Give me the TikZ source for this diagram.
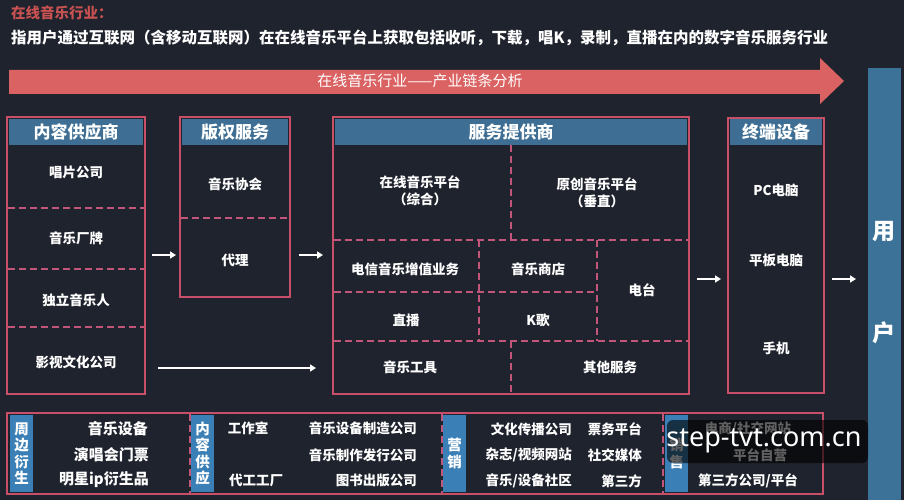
\documentclass[tikz,border=0pt]{standalone}
\usepackage{fontspec}
\setmainfont{Noto Sans CJK SC}
\newfontfamily\wmfont{Noto Sans}
\usetikzlibrary{arrows.meta}
\definecolor{bgc}{HTML}{1F232D}
\definecolor{hblue}{HTML}{3E6E93}
\definecolor{ublue}{HTML}{3C7198}
\definecolor{lblue}{HTML}{3A7FB5}
\definecolor{redb}{HTML}{C75068}
\definecolor{redd}{HTML}{C2557A}
\definecolor{arrred}{HTML}{DB6262}
\definecolor{titred}{HTML}{C85252}
\begin{document}
\begin{tikzpicture}[x=1pt,y=-1pt,
  colbox/.style={draw=redb, line width=1.6pt, inner sep=0pt},
  hdr/.style={fill=hblue, text=white, inner sep=0pt, font=\bfseries\fontsize{17}{19}\selectfont},
  dsh/.style={draw=redd, line width=1.5pt, dash pattern=on 7pt off 4pt},
  txt/.style={text=white, align=center, inner sep=0pt, font=\bfseries\fontsize{13.5}{17}\selectfont},
  btxt/.style={text=white, inner sep=0pt, font=\bfseries\fontsize{15}{17}\selectfont},
  stxt/.style={text=white, inner sep=0pt, font=\bfseries\fontsize{13.5}{16}\selectfont},
  lab/.style={fill=lblue, text=white, inner sep=0pt, align=center, minimum width=23pt, minimum height=77pt, font=\bfseries\fontsize{14.5}{16.5}\selectfont},
  arr/.style={-{Triangle[length=6pt,width=7pt]}, white, line width=1.6pt}
]
\useasboundingbox[fill=bgc] (0,0) rectangle (904,500);

% title lines
\node[anchor=west, inner sep=0pt, text=titred, font=\bfseries\fontsize{14.5}{16}\selectfont] (t1) at (11,13) {在线音乐行业：};
\node[anchor=west, inner sep=0pt, text=white, font=\bfseries\fontsize{15.5}{17}\selectfont] (t2) at (11,38) {指用户通过互联网（含移动互联网）在在线音乐平台上获取包括收听，下载，唱K，录制，直播在内的数字音乐服务行业};

% big arrow
\fill[arrred] (9,70) -- (820,70) -- (820,58) -- (844,81) -- (820,104) -- (820,94) -- (9,94) -- cycle;
\node[inner sep=0pt, text=white, font=\fontsize{15}{17}\selectfont] (chain) at (420,81) {在线音乐行业——产业链条分析};

% user bar
\node[fill=ublue, inner sep=0pt, minimum width=33pt, minimum height=432pt] (user) at (884.5,284) {};
\node[inner sep=0pt, text=white, font=\bfseries\fontsize{23}{25}\selectfont] (u1) at (884,232) {用};
\node[inner sep=0pt, text=white, font=\bfseries\fontsize{23}{25}\selectfont] (u2) at (884,333) {户};

% column 1
\node[colbox, minimum width=138pt, minimum height=277pt] (c1) at (76,255.5) {};
\node[hdr, minimum width=134pt, minimum height=26pt] (h1) at (76,132) {内容供应商};
\draw[dsh] (8,208) -- (144,208);
\draw[dsh] (8,269) -- (144,269);
\draw[dsh] (8,327) -- (144,327);
\node[txt] (c1a) at (76,172) {唱片公司};
\node[txt] (c1b) at (76,238) {音乐厂牌};
\node[txt] (c1c) at (76,300) {独立音乐人};
\node[txt] (c1d) at (76,362) {影视文化公司};

% column 2
\node[colbox, minimum width=110pt, minimum height=180pt] (c2) at (235,207) {};
\node[hdr, minimum width=106pt, minimum height=26pt] (h2) at (235,132) {版权服务};
\draw[dsh] (181,218) -- (289,218);
\node[txt] (c2a) at (235,184) {音乐协会};
\node[txt] (c2b) at (235,260) {代理};

% column 3
\node[colbox, minimum width=356pt, minimum height=277pt] (c3) at (511,255.5) {};
\node[hdr, minimum width=352pt, minimum height=26pt] (h3) at (511,132) {服务提供商};
\draw[dsh] (511,145) -- (511,240);
\draw[dsh] (334,240) -- (688,240);
\draw[dsh] (334,292) -- (597,292);
\draw[dsh] (479,240) -- (479,341);
\draw[dsh] (597,240) -- (597,341);
\draw[dsh] (334,341) -- (688,341);
\draw[dsh] (511,341) -- (511,393);
\node[txt] (c3a) at (420,191) {在线音乐平台\\（综合）};
\node[txt] (c3b) at (597,193) {原创音乐平台\\（垂直）};
\node[txt] (c3c) at (405,269) {电信音乐增值业务};
\node[txt] (c3d) at (538,269) {音乐商店};
\node[txt] (c3e) at (642,290) {电台};
\node[txt] (c3f) at (406,320) {直播};
\node[txt] (c3g) at (538,320) {K歌};
\node[txt] (c3h) at (410,367) {音乐工具};
\node[txt] (c3i) at (610,367) {其他服务};

% column 4
\node[colbox, minimum width=96pt, minimum height=275pt] (c4) at (776,255.5) {};
\node[hdr, minimum width=92pt, minimum height=26pt] (h4) at (776,132) {终端设备};
\node[txt] (c4a) at (776,190) {PC电脑};
\node[txt] (c4b) at (776,260) {平板电脑};
\node[txt] (c4c) at (776,348) {手机};

% connectors
\coordinate (a1s) at (152,255); \coordinate (a1e) at (176,255);
\coordinate (a2s) at (299,255); \coordinate (a2e) at (323,255);
\coordinate (a5s) at (158,368); \coordinate (a5e) at (316,368);
\coordinate (a3s) at (697,279); \coordinate (a3e) at (721,279);
\coordinate (a4s) at (832,279); \coordinate (a4e) at (856,279);
\draw[arr] (a1s) -- (a1e);
\draw[arr] (a2s) -- (a2e);
\draw[arr] (a5s) -- (a5e);
\draw[arr] (a3s) -- (a3e);
\draw[arr] (a4s) -- (a4e);

% bottom row
\node[colbox, minimum width=816pt, minimum height=81pt] (bot) at (415,453.5) {};
\draw[dsh] (190,414) -- (190,493);
\draw[dsh] (442,414) -- (442,493);
\draw[dsh] (663,414) -- (663,493);
\node[lab] (l1) at (21.5,453.5) {周\\边\\衍\\生};
\node[lab] (l2) at (202.5,453.5) {内\\容\\供\\应};
\node[lab] (l3) at (454.5,453.5) {营\\销};
\node[lab] (l4) at (676.5,453.5) {销\\售};

\node[btxt, anchor=east] (b1a) at (148,429) {音乐设备};
\node[btxt, anchor=east] (b1b) at (149,455) {演唱会门票};
\node[btxt, anchor=east] (b1c) at (149,480) {明星ip衍生品};

\node[stxt] (b2a) at (248,428) {工作室};
\node[stxt] (b2b) at (256,480) {代工工厂};
\node[stxt, anchor=east] (b2c) at (417,428) {音乐设备制造公司};
\node[stxt, anchor=east] (b2d) at (417,455) {音乐制作发行公司};
\node[stxt, anchor=east] (b2e) at (417,480) {图书出版公司};

\node[stxt, anchor=east] (b3a) at (572,429) {文化传播公司};
\node[stxt, anchor=east] (b3b) at (572,455) {杂志/视频网站};
\node[stxt, anchor=east] (b3c) at (572,481) {音乐/设备社区};
\node[stxt, anchor=east] (b3d) at (642,429) {票务平台};
\node[stxt, anchor=east] (b3e) at (642,455) {社交媒体};
\node[stxt, anchor=east] (b3f) at (642,481) {第三方};

\node[stxt] (b4a) at (748,429) {电商/社交网站};
\node[stxt] (b4b) at (760,455) {平台自营};
\node[stxt] (b4c) at (748,481) {第三方公司/平台};

% watermark
\fill[black, opacity=0.62, rounded corners=6pt] (667,420) rectangle (868,463);
\node[inner sep=0pt, text=white, font=\wmfont\fontsize{27}{29}\selectfont] (wm) at (764,441) {step-tvt.com.cn};
\end{tikzpicture}
\end{document}
